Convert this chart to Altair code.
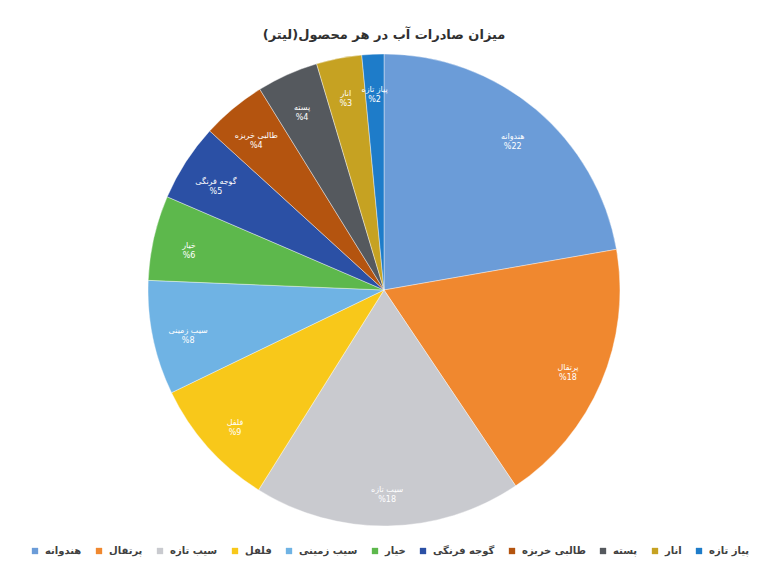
import altair as alt
import pandas as pd

title_text = "میزان صادرات آب در هر محصول(لیتر)"
products = ["هندوانه", "پرتقال", "سیب تازه", "فلفل", "سیب زمینی", "خیار",
            "گوجه فرنگی", "طالبی خربزه", "پسته", "انار", "پیاز تازه"]
shares = [22.2, 18.3, 18.3, 8.9, 7.8, 5.8, 5.3, 4.4, 4.2, 3.1, 1.5]
colors = ["#6B9CD8", "#F0882F", "#C9CACF", "#F8C81A", "#6FB3E4", "#5DB84C",
          "#2B50A5", "#B4540F", "#55595E", "#C6A222", "#1E7CC9"]

df = pd.DataFrame({"product": products, "share": shares, "idx": list(range(len(products)))})
df["label"] = df["product"] + "\n%" + df["share"].round(0).astype(int).astype(str)

FONT = "DejaVu Sans"

base = alt.Chart(df).encode(
    theta=alt.Theta("share:Q", stack=True),
    order=alt.Order("idx:Q", sort="ascending"),
)

pie = base.mark_arc(outerRadius=236, stroke="white", strokeWidth=0.4).encode(
    color=alt.Color(
        "product:N",
        scale=alt.Scale(domain=products, range=colors),
        sort=products,
        legend=alt.Legend(
            title=None,
            orient="none",
            direction="horizontal",
            columns=11,
            legendX=22,
            legendY=496,
            symbolType="square",
            symbolSize=40,
            symbolStrokeWidth=0,
            labelFont=FONT,
            labelFontSize=10,
            labelFontWeight="bold",
            labelColor="#404040",
            columnPadding=12,
            labelOffset=5,
        ),
    )
)

labels = base.mark_text(
    radius=200, font=FONT, fontSize=8, color="white", lineBreak="\n",
    align="center", baseline="middle",
).encode(text="label:N")

chart = alt.layer(pie, labels).properties(
    width=752,
    height=480,
    autosize="none",
    padding={"top": 42, "left": 0, "right": 0, "bottom": 40},
    title=alt.TitleParams(
        title_text, font=FONT, fontSize=13, fontWeight="bold",
        color="#303030", anchor="middle", offset=8,
    ),
).configure_view(stroke=None).configure(background="white")

chart.save("out.html", embed_options={"renderer": "svg", "actions": False})
